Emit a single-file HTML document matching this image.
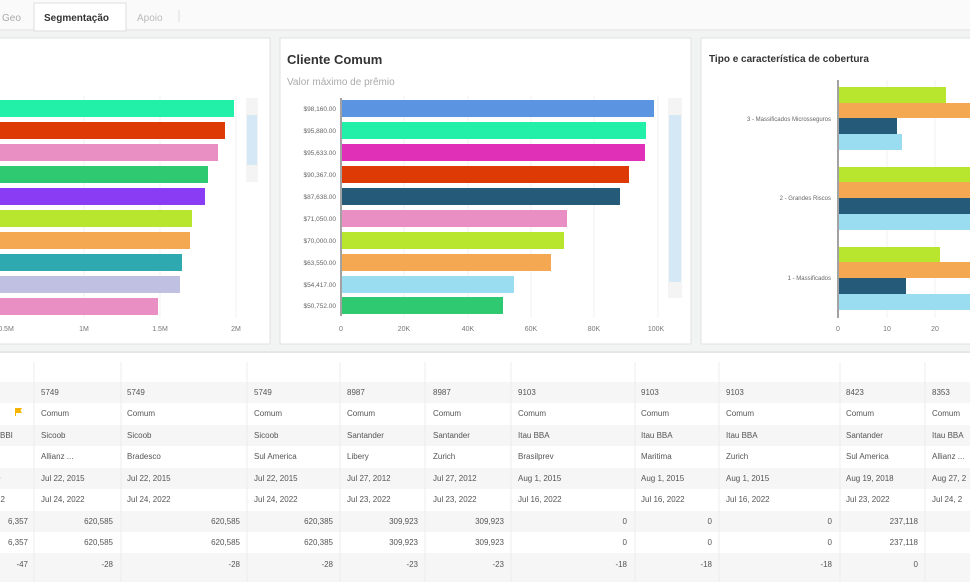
<!DOCTYPE html>
<html><head><meta charset="utf-8"><style>
html,body{margin:0;padding:0;background:#f2f3f3;width:970px;height:582px;overflow:hidden}
svg{display:block;font-family:"Liberation Sans",sans-serif}
</style></head><body>
<svg width="970" height="582" viewBox="0 0 970 582">
<rect width="970" height="582" fill="#f2f3f3"/>
<!-- tabs -->
<rect x="0" y="0" width="970" height="30" fill="#fafafa"/>
<line x1="0" y1="30" x2="970" y2="30" stroke="#e2e2e2"/>
<text x="2" y="21" font-size="10" fill="#aaa">Geo</text>
<rect x="34" y="3" width="92" height="28" fill="#fff" stroke="#ddd"/>
<text x="44" y="21" font-size="10" font-weight="bold" fill="#333">Segmentação</text>
<text x="137" y="21" font-size="10" fill="#bbb">Apoio</text>
<line x1="179" y1="10" x2="179" y2="22" stroke="#ddd"/>
<!-- panels -->
<rect x="-2" y="38" width="272" height="306" fill="#fff" stroke="#e2e2e2"/>
<rect x="280" y="38" width="411" height="306" fill="#fff" stroke="#e2e2e2"/>
<rect x="701" y="38" width="275" height="306" fill="#fff" stroke="#e2e2e2"/>
<!-- left chart -->
<g stroke="#f0f0f0"><line x1="84" y1="96" x2="84" y2="318"/><line x1="160" y1="96" x2="160" y2="318"/><line x1="236" y1="96" x2="236" y2="318"/></g>
<rect x="0" y="100" width="234" height="17" fill="#22f0a8"/>
<rect x="0" y="122" width="225" height="17" fill="#dd3a06"/>
<rect x="0" y="144" width="218" height="17" fill="#ea8fc4"/>
<rect x="0" y="166" width="208" height="17" fill="#2ec970"/>
<rect x="0" y="188" width="205" height="17" fill="#8a3cf5"/>
<rect x="0" y="210" width="192" height="17" fill="#b8e62e"/>
<rect x="0" y="232" width="190" height="17" fill="#f4a852"/>
<rect x="0" y="254" width="182" height="17" fill="#2ea9b0"/>
<rect x="0" y="276" width="180" height="17" fill="#c0c0e2"/>
<rect x="0" y="298" width="158" height="17" fill="#ea8fc4"/>
<rect x="246" y="98" width="12" height="84" fill="#f4f4f4"/>
<rect x="247" y="115" width="10" height="50" fill="#d4e9f5"/>
<g font-size="7" fill="#777" text-anchor="middle"><text x="6" y="331">0.5M</text><text x="84" y="331">1M</text><text x="160" y="331">1.5M</text><text x="236" y="331">2M</text></g>
<!-- middle chart -->
<text x="287" y="64" font-size="13" font-weight="bold" fill="#333">Cliente Comum</text>
<text x="287" y="85" font-size="10" fill="#aaa">Valor máximo de prêmio</text>
<g stroke="#f0f0f0"><line x1="404" y1="96" x2="404" y2="318"/><line x1="468" y1="96" x2="468" y2="318"/><line x1="531" y1="96" x2="531" y2="318"/><line x1="594" y1="96" x2="594" y2="318"/><line x1="658" y1="96" x2="658" y2="318"/></g>
<line x1="341" y1="98" x2="341" y2="316" stroke="#444"/>
<rect x="342" y="100" width="312" height="17" fill="#5b94e0"/>
<rect x="342" y="122" width="304" height="17" fill="#22f0a8"/>
<rect x="342" y="144" width="303" height="17" fill="#e030b8"/>
<rect x="342" y="166" width="287" height="17" fill="#dd3a06"/>
<rect x="342" y="188" width="278" height="17" fill="#255a78"/>
<rect x="342" y="210" width="225" height="17" fill="#ea8fc4"/>
<rect x="342" y="232" width="222" height="17" fill="#b8e62e"/>
<rect x="342" y="254" width="209" height="17" fill="#f4a852"/>
<rect x="342" y="276" width="172" height="17" fill="#9adcf0"/>
<rect x="342" y="297" width="161" height="17" fill="#2ec970"/>
<g font-size="6.5" fill="#666" text-anchor="end">
<text x="336" y="111">$98,160.00</text><text x="336" y="133">$95,880.00</text><text x="336" y="155">$95,633.00</text><text x="336" y="177">$90,367.00</text><text x="336" y="199">$87,638.00</text><text x="336" y="221">$71,050.00</text><text x="336" y="243">$70,000.00</text><text x="336" y="265">$63,550.00</text><text x="336" y="287">$54,417.00</text><text x="336" y="308">$50,752.00</text></g>
<g font-size="7" fill="#777" text-anchor="middle"><text x="341" y="331">0</text><text x="404" y="331">20K</text><text x="468" y="331">40K</text><text x="531" y="331">60K</text><text x="594" y="331">80K</text><text x="656" y="331">100K</text></g>
<rect x="668" y="98" width="14" height="200" fill="#f4f4f4"/>
<rect x="669" y="115" width="12" height="167" fill="#d4e9f5"/>
<!-- right chart -->
<text x="709" y="62" font-size="10" font-weight="bold" fill="#333">Tipo e característica de cobertura</text>
<g stroke="#f0f0f0"><line x1="887" y1="80" x2="887" y2="318"/><line x1="935" y1="80" x2="935" y2="318"/></g>
<line x1="838" y1="80" x2="838" y2="318" stroke="#444"/>
<rect x="839" y="87" width="107" height="16" fill="#b8e62e"/>
<rect x="839" y="103" width="140" height="15" fill="#f4a852"/>
<rect x="839" y="118" width="58" height="16" fill="#255a78"/>
<rect x="839" y="134" width="63" height="16" fill="#9adcf0"/>
<rect x="839" y="167" width="140" height="15" fill="#b8e62e"/>
<rect x="839" y="182" width="140" height="16" fill="#f4a852"/>
<rect x="839" y="198" width="140" height="16" fill="#255a78"/>
<rect x="839" y="214" width="140" height="16" fill="#9adcf0"/>
<rect x="839" y="247" width="101" height="15" fill="#b8e62e"/>
<rect x="839" y="262" width="140" height="16" fill="#f4a852"/>
<rect x="839" y="278" width="67" height="16" fill="#255a78"/>
<rect x="839" y="294" width="140" height="16" fill="#9adcf0"/>
<g font-size="6" fill="#666" text-anchor="end"><text x="831" y="121">3 - Massificados Microsseguros</text><text x="831" y="200">2 - Grandes Riscos</text><text x="831" y="280">1 - Massificados</text></g>
<g font-size="7" fill="#777" text-anchor="middle"><text x="838" y="331">0</text><text x="887" y="331">10</text><text x="935" y="331">20</text></g>
<!-- table -->
<rect x="0" y="352" width="970" height="230" fill="#fff"/>
<line x1="0" y1="352" x2="970" y2="352" stroke="#e6e6e6" stroke-width="2"/>
<g fill="#f6f6f6">
<rect x="0" y="382" width="970" height="21"/><rect x="0" y="425" width="970" height="21"/><rect x="0" y="468" width="970" height="21"/><rect x="0" y="511" width="970" height="21"/><rect x="0" y="553" width="970" height="29"/></g>
<g stroke="#ececec"><line x1="34" y1="362" x2="34" y2="582"/><line x1="121" y1="362" x2="121" y2="582"/><line x1="247" y1="362" x2="247" y2="582"/><line x1="340" y1="362" x2="340" y2="582"/><line x1="425" y1="362" x2="425" y2="582"/><line x1="511" y1="362" x2="511" y2="582"/><line x1="635" y1="362" x2="635" y2="582"/><line x1="719" y1="362" x2="719" y2="582"/><line x1="840" y1="362" x2="840" y2="582"/><line x1="925" y1="362" x2="925" y2="582"/></g>
<path d="M15 408 h7 l-1.5 2.5 l1.5 2.5 h-6 v3 h-1z" fill="#f5b400"/>
<g font-size="8" fill="#555">
<text x="0" y="438">BBI</text><text x="-4" y="481">0</text><text x="-4" y="502">22</text>
<text x="41" y="395">5749</text><text x="41" y="416">Comum</text><text x="41" y="438">Sicoob</text><text x="41" y="459">Allianz ...</text><text x="41" y="481">Jul 22, 2015</text><text x="41" y="502">Jul 24, 2022</text>
<text x="127" y="395">5749</text><text x="127" y="416">Comum</text><text x="127" y="438">Sicoob</text><text x="127" y="459">Bradesco</text><text x="127" y="481">Jul 22, 2015</text><text x="127" y="502">Jul 24, 2022</text>
<text x="254" y="395">5749</text><text x="254" y="416">Comum</text><text x="254" y="438">Sicoob</text><text x="254" y="459">Sul America</text><text x="254" y="481">Jul 22, 2015</text><text x="254" y="502">Jul 24, 2022</text>
<text x="347" y="395">8987</text><text x="347" y="416">Comum</text><text x="347" y="438">Santander</text><text x="347" y="459">Libery</text><text x="347" y="481">Jul 27, 2012</text><text x="347" y="502">Jul 23, 2022</text>
<text x="433" y="395">8987</text><text x="433" y="416">Comum</text><text x="433" y="438">Santander</text><text x="433" y="459">Zurich</text><text x="433" y="481">Jul 27, 2012</text><text x="433" y="502">Jul 23, 2022</text>
<text x="518" y="395">9103</text><text x="518" y="416">Comum</text><text x="518" y="438">Itau BBA</text><text x="518" y="459">Brasilprev</text><text x="518" y="481">Aug 1, 2015</text><text x="518" y="502">Jul 16, 2022</text>
<text x="641" y="395">9103</text><text x="641" y="416">Comum</text><text x="641" y="438">Itau BBA</text><text x="641" y="459">Maritima</text><text x="641" y="481">Aug 1, 2015</text><text x="641" y="502">Jul 16, 2022</text>
<text x="726" y="395">9103</text><text x="726" y="416">Comum</text><text x="726" y="438">Itau BBA</text><text x="726" y="459">Zurich</text><text x="726" y="481">Aug 1, 2015</text><text x="726" y="502">Jul 16, 2022</text>
<text x="846" y="395">8423</text><text x="846" y="416">Comum</text><text x="846" y="438">Santander</text><text x="846" y="459">Sul America</text><text x="846" y="481">Aug 19, 2018</text><text x="846" y="502">Jul 23, 2022</text>
<text x="932" y="395">8353</text><text x="932" y="416">Comum</text><text x="932" y="438">Itau BBA</text><text x="932" y="459">Allianz ...</text><text x="932" y="481">Aug 27, 2</text><text x="932" y="502">Jul 24, 2</text>
</g>
<g font-size="8" fill="#555" text-anchor="end">
<text x="28" y="524">6,357</text><text x="28" y="545">6,357</text><text x="28" y="567">-47</text>
<text x="113" y="524">620,585</text><text x="113" y="545">620,585</text><text x="113" y="567">-28</text>
<text x="240" y="524">620,585</text><text x="240" y="545">620,585</text><text x="240" y="567">-28</text>
<text x="333" y="524">620,385</text><text x="333" y="545">620,385</text><text x="333" y="567">-28</text>
<text x="418" y="524">309,923</text><text x="418" y="545">309,923</text><text x="418" y="567">-23</text>
<text x="504" y="524">309,923</text><text x="504" y="545">309,923</text><text x="504" y="567">-23</text>
<text x="627" y="524">0</text><text x="627" y="545">0</text><text x="627" y="567">-18</text>
<text x="712" y="524">0</text><text x="712" y="545">0</text><text x="712" y="567">-18</text>
<text x="832" y="524">0</text><text x="832" y="545">0</text><text x="832" y="567">-18</text>
<text x="918" y="524">237,118</text><text x="918" y="545">237,118</text><text x="918" y="567">0</text>
<text x="976" y="524">5</text><text x="976" y="545">5</text>
</g>
</svg>
</body></html>
